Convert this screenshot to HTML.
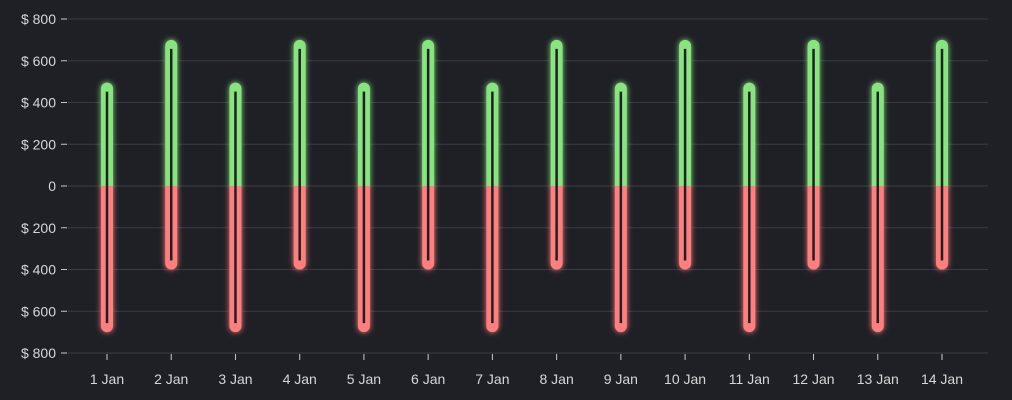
<!DOCTYPE html>
<html><head><meta charset="utf-8"><style>
html,body{margin:0;padding:0;background:#1f2026;}
svg{display:block;font-family:"Liberation Sans",sans-serif;}
</style></head><body>
<svg id="chart" width="1012" height="400" viewBox="0 0 1012 400">
<defs>
<filter id="glow" x="-100%" y="-20%" width="300%" height="140%"><feGaussianBlur stdDeviation="3" result="b"/><feMerge><feMergeNode in="b"/><feMergeNode in="SourceGraphic"/></feMerge></filter>
<clipPath id="pos"><rect x="0" y="0" width="1012" height="186"/></clipPath>
<clipPath id="neg"><rect x="0" y="186" width="1012" height="214"/></clipPath>
</defs>
<g id="grid"></g>
<g id="bars"></g>
<g id="xaxis"></g>
</svg>
<script>
const categories=["1 Jan","2 Jan","3 Jan","4 Jan","5 Jan","6 Jan","7 Jan","8 Jan","9 Jan","10 Jan","11 Jan","12 Jan","13 Jan","14 Jan"];
const incomeValues=[495,700,495,700,495,700,495,700,495,700,495,700,495,700];
const expenseValues=[-700,-400,-700,-400,-700,-400,-700,-400,-700,-400,-700,-400,-700,-400];
const yTicks=[800,600,400,200,0,-200,-400,-600,-800];
const yTickLabels=["$ 800","$ 600","$ 400","$ 200","0","$ 200","$ 400","$ 600","$ 800"];
const NS="http://www.w3.org/2000/svg";
function y(v){return 186-v*167/800;}
function x(i){return 107+i*(942-107)/(categories.length-1);}
function mk(t,a,p){const e=document.createElementNS(NS,t);for(const k in a)e.setAttribute(k,a[k]);p.appendChild(e);return e;}
const grid=document.getElementById('grid'),bars=document.getElementById('bars'),xa=document.getElementById('xaxis');
yTicks.forEach((v,i)=>{
 const l=mk('line',{x1:68,x2:988,y1:y(v),y2:y(v),stroke:'#3a3b44','stroke-width':1},grid);
 
 
 const tk=mk('line',{x1:61,x2:67,y1:y(v),y2:y(v),stroke:'#c8c8cc','stroke-width':1},grid);
 
 
 const t=mk('text',{x:56,y:y(v)+5,'text-anchor':'end','font-size':14,fill:'#d6d6da'},grid);
 t.textContent=yTickLabels[i];
 
 
});
const bw=12;
categories.forEach((c,i)=>{
 const cx=x(i);
 const g=mk('g',{filter:'url(#glow)'},bars);
 
 
 const p=mk('rect',{x:cx-bw/2,y:y(incomeValues[i]),width:bw,height:y(0)-y(incomeValues[i])+bw,rx:bw/2,fill:'#88e47e','clip-path':'url(#pos)'},g);
 
 
 const n=mk('rect',{x:cx-bw/2,y:y(0)-bw,width:bw,height:y(expenseValues[i])-y(0)+bw,rx:bw/2,fill:'#ff7f7f','clip-path':'url(#neg)'},g);
 
 
 const ln=mk('line',{x1:cx,x2:cx,y1:y(incomeValues[i])+9,y2:y(expenseValues[i])-9,stroke:'#1f2026','stroke-width':2.5},bars);
 
 
 const tk=mk('line',{x1:cx,x2:cx,y1:354,y2:360,stroke:'#c8c8cc','stroke-width':1},xa);
 
 
 const t=mk('text',{x:cx,y:384,'text-anchor':'middle','font-size':14,fill:'#d6d6da'},xa);
 t.textContent=c;
 
 
});
</script>
</body></html>
